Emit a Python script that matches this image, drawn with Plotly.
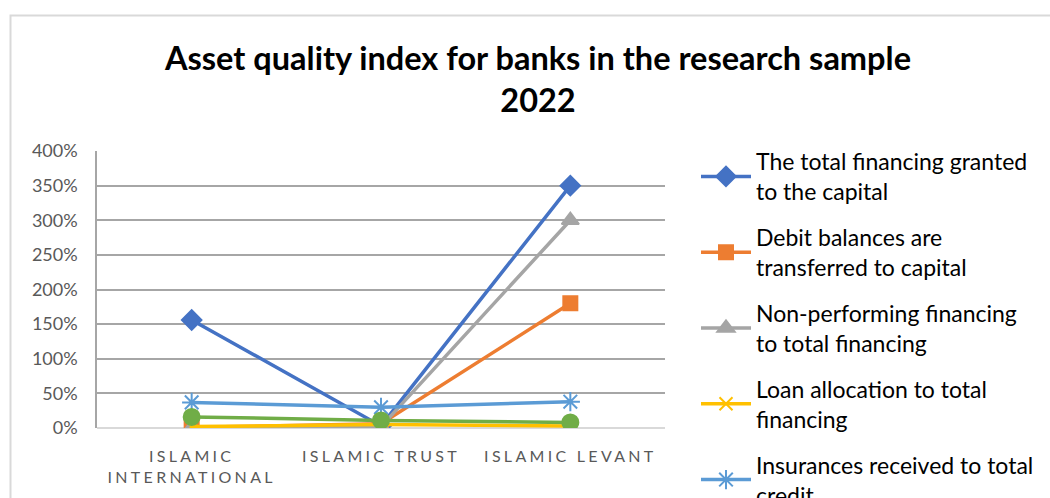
import plotly.graph_objects as go

categories = ["ISLAMIC INTERNATIONAL", "ISLAMIC TRUST", "ISLAMIC LEVANT"]
tick_labels = ["ISLAMIC<br>INTERNATIONAL", "ISLAMIC TRUST", "ISLAMIC LEVANT"]

total_financing = [1.56, 0.03, 3.50]
debit_balances = [0.01, 0.06, 1.80]
non_performing = [0.00, 0.02, 3.00]
loan_allocation = [0.02, 0.05, 0.03]
insurances = [0.37, 0.30, 0.38]
provisions = [0.16, 0.11, 0.08]

series_names = [
    "The total financing granted<br>to the capital",
    "Debit balances are<br>transferred to capital",
    "Non-performing financing<br>to total financing",
    "Loan allocation to total<br>financing",
    "Insurances received to total<br>credit",
    "Provisions to non-performing<br>financing",
]
series_values = [total_financing, debit_balances, non_performing,
                 loan_allocation, insurances, provisions]
colors = ["#4472C4", "#ED7D31", "#A5A5A5", "#FFC000", "#5B9BD5", "#70AD47"]
symbols = ["diamond", "square", "triangle-up", "x-thin-open", "asterisk-open", "circle"]
sizes = [15, 14, 15, 13, 16, 16]

W, H = 1050, 498
def py(px_from_top):
    return 1 - px_from_top / H

fig = go.Figure()
for i, (name, vals) in enumerate(zip(series_names, series_values)):
    fig.add_trace(go.Scatter(
        x=categories, y=vals, name=name, mode="lines+markers",
        legendgroup=f"g{i}",
        line=dict(color=colors[i], width=3.5),
        marker=dict(symbol=symbols[i], size=sizes[i], color=colors[i],
                    line=dict(color=colors[i], width=2)),
    ))

x0, x1 = 97 / W, 665 / W

fig.update_layout(
    width=W, height=H,
    # no auto-expansion: the legend simply runs off the bottom edge,
    # as it does in the reference
    margin=dict(l=0, r=0, t=0, b=0, autoexpand=False),
    paper_bgcolor="white", plot_bgcolor="white",
    font=dict(family="Lato, Open Sans, sans-serif", color="#595959"),
    title=dict(
        text="<b>Asset quality index for banks in the research sample<br>2022</b>",
        x=538 / W, xanchor="center", xref="paper",
        y=py(70), yanchor="top", yref="paper",
        font=dict(size=32.5, color="black", family="Lato, sans-serif"),
    ),
    xaxis=dict(
        domain=[x0, x1], type="category",
        tickvals=categories, ticktext=tick_labels,
        showgrid=False, showline=False, zeroline=False,
        ticks="outside", ticklen=14, tickcolor="rgba(0,0,0,0)",
        tickfont=dict(size=16, color="#595959", family="Lato"),
        range=[-0.5, 2.5], automargin=False,
    ),
    yaxis=dict(
        domain=[py(428), py(151)], range=[0, 4], dtick=0.5, tickformat=".0%",
        showgrid=True, gridcolor="#A6A6A6", gridwidth=1.5,
        zeroline=True, zerolinecolor="#D9D9D9", zerolinewidth=1.5,
        showline=True, linecolor="#A6A6A6", linewidth=1.5,
        ticks="outside", ticklen=14, tickcolor="rgba(0,0,0,0)",
        tickfont=dict(size=18, color="#595959"),
        automargin=False,
    ),
    legend=dict(
        x=696 / W, xanchor="left", y=py(140), yanchor="top",
        font=dict(size=23, color="black"),
        itemwidth=50, tracegroupgap=13,
        bgcolor="rgba(0,0,0,0)",
    ),
    showlegend=True,
    shapes=[dict(type="rect", xref="paper", yref="paper",
                 x0=10.5 / W, x1=1.2, y0=-0.2, y1=py(15.5),
                 line=dict(color="#D9D9D9", width=2), layer="below")],
)

post = """
document.body.style.margin = '0';
document.querySelectorAll('.xtick text').forEach(function(t){
    t.style.letterSpacing = '3.3px';
});
"""
fig.write_html("out.html", post_script=post)
